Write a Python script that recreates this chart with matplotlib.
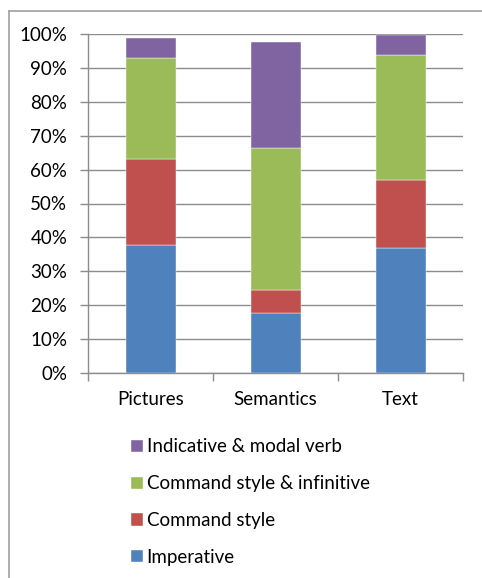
import numpy as np
import matplotlib
matplotlib.use("Agg")
import matplotlib.pyplot as plt
from matplotlib.lines import Line2D

# data (percent of each category)
categories = ["Pictures", "Semantics", "Text"]
imperative = [37.8, 17.8, 37.0]
command_style = [25.3, 6.7, 20.0]
command_inf = [29.9, 41.9, 36.8]
indicative_modal = [5.7, 31.2, 6.0]

series_names = ["Imperative", "Command style", "Command style & infinitive", "Indicative & modal verb"]
series_vals = [imperative, command_style, command_inf, indicative_modal]
colors = ["#4F81BD", "#C0504D", "#9BBB59", "#8064A2"]

plt.rcParams['font.family'] = ['Lato', 'DejaVu Sans']
fs = 13.5

W, H = 482, 578
fig = plt.figure(figsize=(W / 100, H / 100), dpi=100)
ax = fig.add_axes([88 / W, 1 - 373 / H, 375 / W, 339 / H])

x = np.arange(len(categories))
bottom = np.zeros(len(categories))
handles = []
for name, vals, c in zip(series_names, series_vals, colors):
    b = ax.bar(x, vals, 0.4, bottom=bottom, color=c, label=name, zorder=3,
               edgecolor="white", linewidth=0.3)
    bottom += np.array(vals)
    handles.append(b)

# axes styling
grid_c = "#8C8C8C"
ax.set_xlim(-0.5, 2.5)
ax.set_ylim(0, 100)
ax.set_yticks(np.arange(0, 101, 10))
ax.set_yticklabels([f"{v}%" for v in range(0, 101, 10)])
ax.yaxis.grid(True, color=grid_c, linewidth=1.0, zorder=0)
ax.set_xticks([-0.5, 0.5, 1.5, 2.5])
ax.set_xticklabels([])
ax.set_xticks(x, minor=True)
ax.set_xticklabels(categories, minor=True)
ax.tick_params(axis="x", which="major", length=6, color=grid_c, width=1)
ax.tick_params(axis="x", which="minor", length=0, pad=13, labelsize=fs)
ax.tick_params(axis="y", length=6, color=grid_c, width=1, pad=9, labelsize=fs)
for s in ["top", "right"]:
    ax.spines[s].set_visible(False)
for s in ["left", "bottom"]:
    ax.spines[s].set_color(grid_c)
    ax.spines[s].set_linewidth(1.0)
ax.set_axisbelow(True)

# legend below
fig.legend(handles[::-1], series_names[::-1], loc="upper left",
           bbox_to_anchor=(122 / W, 1 - 429 / H), frameon=False,
           fontsize=fs, handlelength=0.62, handleheight=0.62,
           handletextpad=0.2, labelspacing=1.06, borderpad=0)

# chart frame (left and top edge visible)
fig.add_artist(Line2D([9 / W, 9 / W], [0, 1 - 11 / H], transform=fig.transFigure,
                      color="#A0A0A0", linewidth=1.2))
fig.add_artist(Line2D([9 / W, 1], [1 - 11 / H, 1 - 11 / H], transform=fig.transFigure,
                      color="#A0A0A0", linewidth=1.2))

fig.savefig("out.png", dpi=100)
